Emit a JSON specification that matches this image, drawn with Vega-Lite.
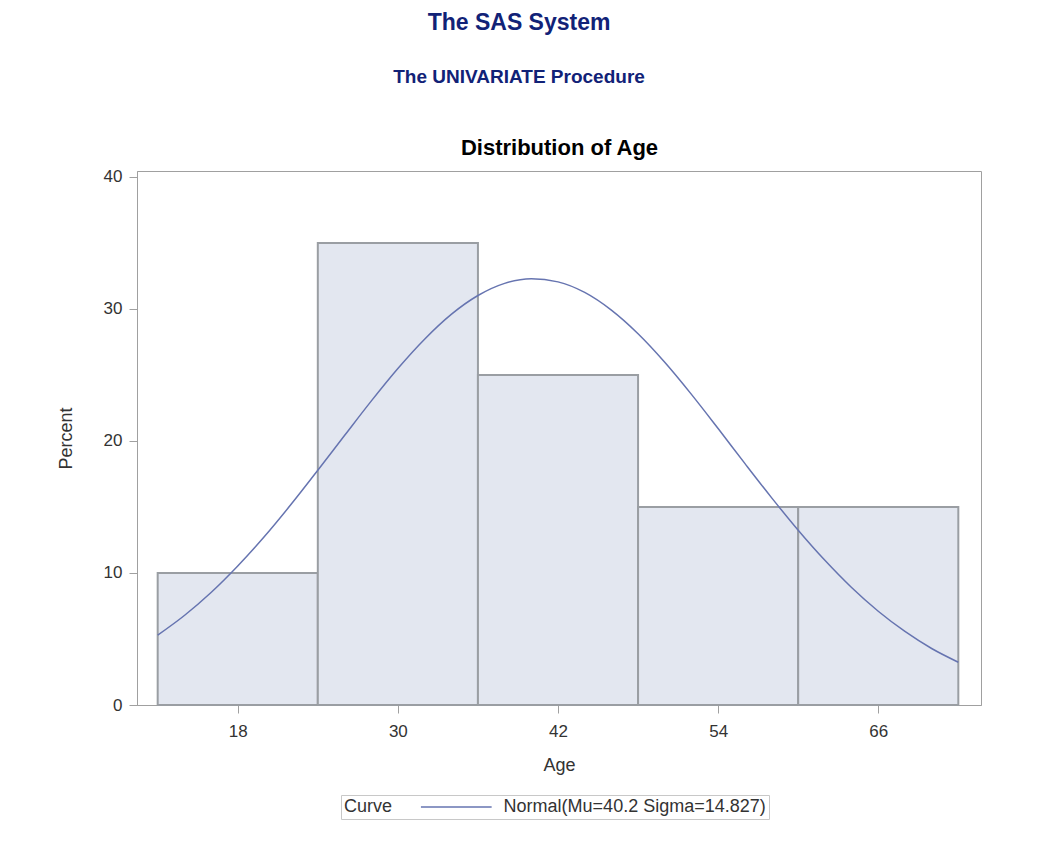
{
  "$schema": "https://vega.github.io/schema/vega-lite/v6.json",
  "autosize": {"type": "none"},
  "width": 844,
  "height": 534,
  "padding": {"left": 137, "top": 171, "right": 76, "bottom": 150},
  "background": "white",
  "title": {
    "text": "The SAS System",
    "subtitle": "The UNIVARIATE Procedure",
    "anchor": "middle",
    "frame": "bounds",
    "font": "Liberation Sans",
    "fontSize": 23,
    "fontWeight": "bold",
    "color": "#112277",
    "subtitleFont": "Liberation Sans",
    "subtitleFontSize": 19,
    "subtitleFontWeight": "bold",
    "subtitleColor": "#112277",
    "subtitlePadding": 33,
    "offset": 49
  },
  "datasets": {
    "bins": [
      {"bin_start": 12, "bin_end": 24, "percent": 10},
      {"bin_start": 24, "bin_end": 36, "percent": 35},
      {"bin_start": 36, "bin_end": 48, "percent": 25},
      {"bin_start": 48, "bin_end": 60, "percent": 15},
      {"bin_start": 60, "bin_end": 72, "percent": 15}
    ],
    "curve": [
      {"age": 12, "percent": 5.29, "curve": "Normal(Mu=40.2 Sigma=14.827)"},
      {"age": 14, "percent": 6.78, "curve": "Normal(Mu=40.2 Sigma=14.827)"},
      {"age": 16, "percent": 8.52, "curve": "Normal(Mu=40.2 Sigma=14.827)"},
      {"age": 18, "percent": 10.53, "curve": "Normal(Mu=40.2 Sigma=14.827)"},
      {"age": 20, "percent": 12.76, "curve": "Normal(Mu=40.2 Sigma=14.827)"},
      {"age": 22, "percent": 15.20, "curve": "Normal(Mu=40.2 Sigma=14.827)"},
      {"age": 24, "percent": 17.78, "curve": "Normal(Mu=40.2 Sigma=14.827)"},
      {"age": 26, "percent": 20.41, "curve": "Normal(Mu=40.2 Sigma=14.827)"},
      {"age": 28, "percent": 23.02, "curve": "Normal(Mu=40.2 Sigma=14.827)"},
      {"age": 30, "percent": 25.49, "curve": "Normal(Mu=40.2 Sigma=14.827)"},
      {"age": 32, "percent": 27.71, "curve": "Normal(Mu=40.2 Sigma=14.827)"},
      {"age": 34, "percent": 29.59, "curve": "Normal(Mu=40.2 Sigma=14.827)"},
      {"age": 36, "percent": 31.02, "curve": "Normal(Mu=40.2 Sigma=14.827)"},
      {"age": 38, "percent": 31.94, "curve": "Normal(Mu=40.2 Sigma=14.827)"},
      {"age": 40, "percent": 32.29, "curve": "Normal(Mu=40.2 Sigma=14.827)"},
      {"age": 42, "percent": 32.05, "curve": "Normal(Mu=40.2 Sigma=14.827)"},
      {"age": 44, "percent": 31.25, "curve": "Normal(Mu=40.2 Sigma=14.827)"},
      {"age": 46, "percent": 29.91, "curve": "Normal(Mu=40.2 Sigma=14.827)"},
      {"age": 48, "percent": 28.12, "curve": "Normal(Mu=40.2 Sigma=14.827)"},
      {"age": 50, "percent": 25.96, "curve": "Normal(Mu=40.2 Sigma=14.827)"},
      {"age": 52, "percent": 23.53, "curve": "Normal(Mu=40.2 Sigma=14.827)"},
      {"age": 54, "percent": 20.94, "curve": "Normal(Mu=40.2 Sigma=14.827)"},
      {"age": 56, "percent": 18.30, "curve": "Normal(Mu=40.2 Sigma=14.827)"},
      {"age": 58, "percent": 15.71, "curve": "Normal(Mu=40.2 Sigma=14.827)"},
      {"age": 60, "percent": 13.24, "curve": "Normal(Mu=40.2 Sigma=14.827)"},
      {"age": 62, "percent": 10.96, "curve": "Normal(Mu=40.2 Sigma=14.827)"},
      {"age": 64, "percent": 8.90, "curve": "Normal(Mu=40.2 Sigma=14.827)"},
      {"age": 66, "percent": 7.10, "curve": "Normal(Mu=40.2 Sigma=14.827)"},
      {"age": 68, "percent": 5.57, "curve": "Normal(Mu=40.2 Sigma=14.827)"},
      {"age": 70, "percent": 4.28, "curve": "Normal(Mu=40.2 Sigma=14.827)"},
      {"age": 72, "percent": 3.24, "curve": "Normal(Mu=40.2 Sigma=14.827)"}
    ]
  },
  "resolve": {"axis": {"x": "independent"}},
  "layer": [
    {
      "data": {"name": "bins"},
      "mark": {"type": "rect", "fill": "#E3E7F0", "stroke": "#9A9EA3", "strokeWidth": 2},
      "encoding": {
        "x": {
          "field": "bin_start", "type": "quantitative",
          "scale": {"domain": [10.45, 73.7], "nice": false, "zero": false},
          "axis": {"orient": "bottom", "title": "Age", "values": [18, 30, 42, 54, 66], "labelPadding": 10, "titlePadding": 17}
        },
        "x2": {"field": "bin_end"},
        "y": {
          "field": "percent", "type": "quantitative",
          "scale": {"domain": [0, 40.45], "nice": false},
          "axis": {"title": "Percent", "values": [0, 10, 20, 30, 40], "labelPadding": 7, "titlePadding": 28}
        },
        "y2": {"datum": 0}
      }
    },
    {
      "data": {"name": "curve"},
      "mark": {"type": "line", "interpolate": "monotone", "strokeWidth": 1.5},
      "encoding": {
        "x": {
          "field": "age", "type": "quantitative",
          "axis": {"orient": "top", "title": "Distribution of Age", "labels": false, "ticks": false, "domain": false, "titlePadding": 12, "titleFontSize": 22, "titleFontWeight": "bold", "titleColor": "#000000"}
        },
        "y": {
          "field": "percent", "type": "quantitative",
          "axis": {"title": "Percent", "values": [0, 10, 20, 30, 40], "labelPadding": 7, "titlePadding": 28}
        },
        "stroke": {
          "field": "curve", "type": "nominal",
          "scale": {"range": ["#6674B0"]},
          "legend": {
            "orient": "none", "legendX": 204, "legendY": 624,
            "title": "Curve", "titleOrient": "left", "titlePadding": 26,
            "titleBaseline": "middle", "titleAnchor": "middle",
            "direction": "horizontal",
            "symbolType": "M-1,0H9", "symbolSize": 200, "symbolStrokeWidth": 1.5,
            "labelOffset": 66.6, "labelLimit": 500, "padding": 3,
            "strokeColor": "#C8C8C8", "fillColor": "white"
          }
        }
      }
    }
  ],
  "config": {
    "view": {"stroke": "#A0A0A0", "fill": "white"},
    "axis": {
      "grid": false,
      "labelFont": "Liberation Sans", "labelFontSize": 17, "labelColor": "#333333",
      "titleFont": "Liberation Sans", "titleFontSize": 18, "titleFontWeight": "normal", "titleColor": "#333333",
      "tickColor": "#A0A0A0", "tickSize": 8, "domainColor": "#A0A0A0"
    },
    "legend": {
      "labelFont": "Liberation Sans", "labelFontSize": 18, "labelColor": "#333333",
      "titleFont": "Liberation Sans", "titleFontSize": 18, "titleFontWeight": "normal", "titleColor": "#333333"
    }
  }
}
